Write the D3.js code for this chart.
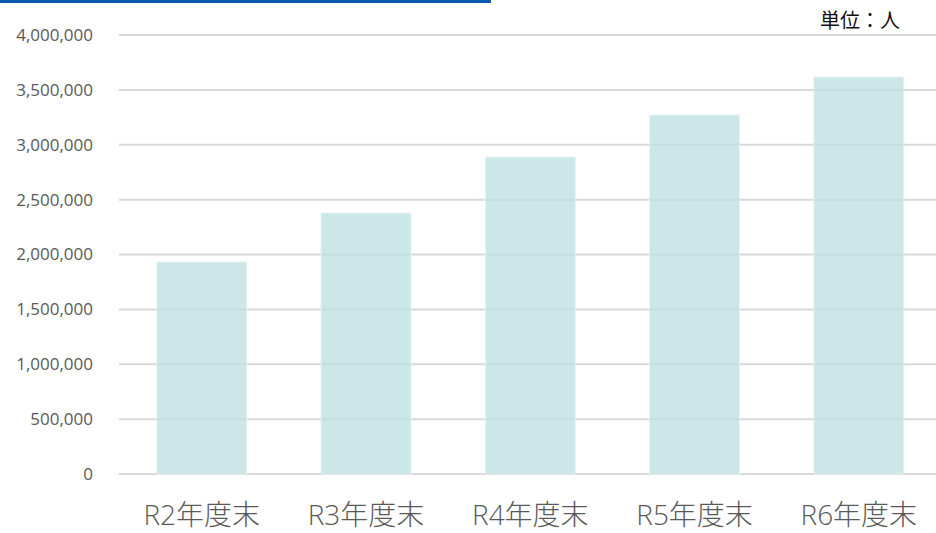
<!DOCTYPE html>
<html>
<head>
<meta charset="utf-8">
<script src="https://cdn.jsdelivr.net/npm/d3@7"></script>
<style>
  body { margin: 0; background: #fff; }
  text { font-family: "Open Sans", "Noto Sans CJK JP", sans-serif; }
</style>
</head>
<body>
<svg id="chart" width="936" height="533"></svg>
<script>
// Data
var categories = ['R2年度末', 'R3年度末', 'R4年度末', 'R5年度末', 'R6年度末'];
var values = [1932000, 2378000, 2888000, 3271000, 3617000];
var yTicks = [0, 500000, 1000000, 1500000, 2000000, 2500000, 3000000, 3500000, 4000000];
var unitLabel = '単位：人';

function renderChart() {
  'use strict';
  var svg = d3.select('#chart'),
    margin = {top: 35, right: 0, bottom: 59, left: 119},
    width = svg.attr('width') - margin.left - margin.right,
    height = svg.attr('height') - margin.top - margin.bottom;

  // blue rule along the top
  svg.append('rect')
    .attr('x', 0).attr('y', 0)
    .attr('width', 491).attr('height', 3)
    .attr('fill', '#0a5bb0');

  var x = d3.scaleBand().domain(categories).range([0, width])
    .paddingInner(0.452).paddingOuter(0.213).align(0.54);
  var y = d3.scaleLinear().domain([0, 4000000]).range([height, 0]);

  var g = svg.append('g')
    .attr('transform', 'translate(' + margin.left + ', ' + margin.top + ')');

  // gridlines
  g.selectAll('.grid')
    .data(yTicks)
    .enter()
    .append('line')
      .attr('x1', 0).attr('x2', width)
      .attr('y1', function(d) { return y(d); })
      .attr('y2', function(d) { return y(d); })
      .attr('stroke', '#d9d9d9')
      .attr('stroke-width', 2);

  // y tick labels
  var yAxis = g.append('g')
    .call(d3.axisLeft(y).tickValues(yTicks).tickFormat(d3.format(',')).tickSize(0).tickPadding(26));
  yAxis.select('.domain').remove();
  yAxis.selectAll('text')
    .attr('font-size', 17)
    .attr('fill', '#595959')
    .style('font-family', '"Open Sans", sans-serif');

  // bars (semi-transparent so gridlines show through)
  g.selectAll('.bar')
    .data(values)
    .enter()
    .append('rect')
      .attr('class', 'bar')
      .attr('x', function(d, i) { return x(categories[i]); })
      .attr('y', function(d) { return y(d); })
      .attr('width', x.bandwidth())
      .attr('height', function(d) { return height - y(d); })
      .attr('fill', '#bde0e1')
      .attr('fill-opacity', 0.78)
      .attr('stroke', '#e6f3f3')
      .attr('stroke-width', 1);

  // x axis labels
  var xAxis = g.append('g')
    .attr('transform', 'translate(0, ' + height + ')')
    .call(d3.axisBottom(x).tickSize(0).tickPadding(31));
  xAxis.select('.domain').remove();
  xAxis.selectAll('text')
    .attr('font-size', 28)
    .attr('fill', '#595959')
    .style('font-family', '"Open Sans", "Noto Sans CJK JP", sans-serif')
    .style('font-weight', 300);

  // unit label
  svg.append('text')
    .attr('x', 900)
    .attr('y', 28)
    .attr('text-anchor', 'end')
    .attr('font-size', 20)
    .attr('fill', '#111')
    .style('font-family', '"Noto Sans CJK JP", sans-serif')
    .text(unitLabel);
}

renderChart();
</script>
</body>
</html>
